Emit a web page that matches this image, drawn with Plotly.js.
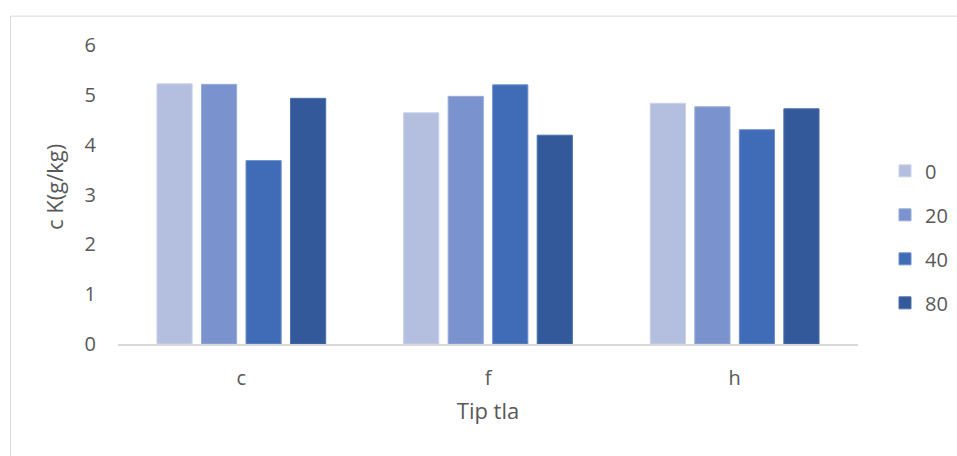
<!DOCTYPE html>
<html>
<head>
<meta charset="utf-8">
<script src="https://cdn.plot.ly/plotly-3.0.1.min.js"></script>
<style>html,body{margin:0;padding:0;background:#fff;}#chart{width:957px;height:456px;}</style>
</head>
<body>
<div id="chart"></div>
<script>
var categories = ["c", "f", "h"];
var seriesNames = ["0", "20", "40", "80"];
var s0 = [5.22, 4.64, 4.83];
var s20 = [5.21, 4.97, 4.76];
var s40 = [3.68, 5.20, 4.30];
var s80 = [4.93, 4.19, 4.72];
var yTicks = [0, 1, 2, 3, 4, 5, 6];
var xTitle = "Tip tla";
var yTitle = "c K(g/kg)";

var colors = ["#B4BFDF", "#7A93CF", "#3F6BB7", "#33599A"];
var lineColors = ["#C9D2EA", "#97AADA", "#6E8FCB", "#4E70AA"];
var allSeries = [s0, s20, s40, s80];
var fontFam = "'Open Sans', Lato, sans-serif";
var textColor = "#595959";

var traces = allSeries.map(function (vals, i) {
  return {
    type: "bar",
    name: seriesNames[i],
    x: categories,
    y: vals,
    legendgroup: "g" + i,
    marker: { color: colors[i], line: { color: lineColors[i], width: 1 } },
    hoverinfo: "x+y+name"
  };
});

var L = 118, R = 858, T = 44.5, B = 344.5, W = 957, H = 456;
var pw = R - L, ph = B - T;
function px(x) { return (x - L) / pw; }
function py(y) { return (B - y) / ph; }

var layout = {
  width: W, height: H,
  margin: { l: L, r: W - R, t: T, b: H - B, pad: 0, autoexpand: false },
  paper_bgcolor: "#ffffff",
  plot_bgcolor: "#ffffff",
  barmode: "group",
  bargap: 0.278,
  bargroupgap: 0.21,
  font: { family: fontFam, color: textColor, size: 20 },
  xaxis: {
    type: "category",
    showgrid: false,
    showline: true,
    linecolor: "#D9D9D9",
    linewidth: 2,
    ticks: "",
    tickfont: { size: 20, color: textColor, family: fontFam },
    ticklabelstandoff: 15,
    title: { text: xTitle, font: { size: 22, color: textColor, family: fontFam }, standoff: 14 },
    zeroline: false
  },
  yaxis: {
    range: [0, 6],
    tickvals: yTicks,
    ticktext: yTicks.map(String),
    showgrid: false,
    showline: false,
    zeroline: false,
    ticks: "",
    tickfont: { size: 20, color: textColor, family: fontFam },
    ticklabelstandoff: 21
  },
  showlegend: true,
  legend: {
    x: px(885),
    xanchor: "left",
    y: py(237),
    yanchor: "middle",
    traceorder: "grouped",
    tracegroupgap: 15,
    itemwidth: 30,
    font: { size: 20, color: textColor, family: fontFam },
    bgcolor: "rgba(0,0,0,0)",
    borderwidth: 0
  },
  annotations: [{
    xref: "paper", yref: "paper",
    x: px(54), y: py(187),
    xanchor: "center", yanchor: "middle",
    text: yTitle,
    textangle: -90,
    showarrow: false,
    font: { size: 22, color: textColor, family: fontFam }
  }],
  shapes: [
    { type: "line", xref: "paper", yref: "paper", x0: px(10.5), x1: px(10.5), y0: py(15.5), y1: py(470), line: { color: "#D9D9D9", width: 1 } },
    { type: "line", xref: "paper", yref: "paper", x0: px(10.5), x1: px(970), y0: py(15.5), y1: py(15.5), line: { color: "#D9D9D9", width: 1 } }
  ]
};

Plotly.newPlot("chart", traces, layout, { displayModeBar: false, staticPlot: true });
</script>
</body>
</html>
